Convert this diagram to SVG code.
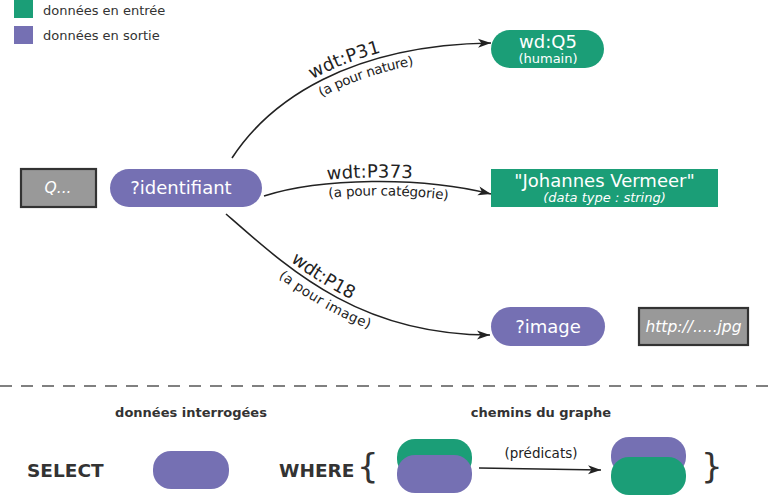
<svg xmlns="http://www.w3.org/2000/svg" xmlns:xlink="http://www.w3.org/1999/xlink" width="775" height="495" viewBox="0 0 775 495">
<style>
text{font-family:"DejaVu Sans","Liberation Sans",sans-serif;}
.in{fill:#1b9e77;}
.out{fill:#7570b3;}
.lit{fill:#999999;stroke:#333333;stroke-width:2.2;}
.w18{fill:#ffffff;font-size:18px;text-anchor:middle;}
.w13{fill:#ffffff;font-size:13px;text-anchor:middle;}
.wi{fill:#ffffff;font-size:15.5px;font-style:italic;text-anchor:middle;}
.leg{fill:#333333;font-size:13px;}
.edge{fill:none;stroke:#222222;stroke-width:1.6;}
.lbl{fill:#222222;font-size:18px;}
.sub{fill:#222222;font-size:13.5px;}
.hd{fill:#333333;font-size:13px;font-weight:bold;text-anchor:middle;}
.kw{fill:#333333;font-size:18.5px;font-weight:bold;}
.br{fill:#333333;font-size:34px;}
</style>
<defs>
<marker id="arr" markerUnits="userSpaceOnUse" viewBox="0 -5 14 10" markerWidth="14" markerHeight="10" refX="13" refY="0" orient="auto">
<path d="M0,-4.5 L13,0 L0,4.5 L3.5,0 Z" fill="#222222"/>
</marker>
</defs>

<g id="legend">
<rect class="in" x="14" y="-1" width="19" height="19"/>
<text class="leg" x="43" y="15">données en entrée</text>
<rect class="out" x="14" y="26" width="19" height="18"/>
<text class="leg" x="43" y="40">données en sortie</text>
</g>

<g id="connectors">
<path id="e1" class="edge" d="M232,158 C270,100 350,45 491,43" marker-end="url(#arr)"/>
<path id="e2" class="edge" d="M264,196 C320,178 420,176 491,194" marker-end="url(#arr)"/>
<path id="e3" class="edge" d="M226,214 C290,270 360,335 490,335" marker-end="url(#arr)"/>
<path class="edge" d="M479,468 L601,470" marker-end="url(#arr)"/>
<text class="lbl"><textPath xlink:href="#e1" href="#e1" startOffset="112"><tspan dy="-5">wdt:P31</tspan></textPath></text>
<text class="sub"><textPath xlink:href="#e1" href="#e1" startOffset="112"><tspan dy="15">(a pour nature)</tspan></textPath></text>
<text class="lbl"><textPath xlink:href="#e2" href="#e2" startOffset="65"><tspan dy="-4">wdt:P373</tspan></textPath></text>
<text class="sub"><textPath xlink:href="#e2" href="#e2" startOffset="65"><tspan dy="14">(a pour catégorie)</tspan></textPath></text>
<text class="lbl"><textPath xlink:href="#e3" href="#e3" startOffset="80"><tspan dy="-5">wdt:P18</tspan></textPath></text>
<text class="sub"><textPath xlink:href="#e3" href="#e3" startOffset="80"><tspan dy="15">(a pour image)</tspan></textPath></text>
<text class="sub" x="541" y="458" text-anchor="middle" font-size="13">(prédicats)</text>
</g>

<g id="node-q">
<rect class="lit" x="21" y="169" width="75" height="38"/>
<text class="wi" x="58" y="193">Q...</text>
</g>

<g id="node-identifiant">
<rect class="out" x="110" y="169" width="152" height="38" rx="19"/>
<text class="w18" x="181" y="194">?identifiant</text>
</g>

<g id="node-q5">
<rect class="in" x="491" y="30" width="113" height="38" rx="19"/>
<text class="w18" x="548" y="48">wd:Q5</text>
<text class="w13" x="548" y="63">(humain)</text>
</g>

<g id="node-vermeer">
<rect class="in" x="491" y="169" width="227" height="38"/>
<text class="w18" x="604.5" y="186.5">"Johannes Vermeer"</text>
<text class="w13" x="604.5" y="201.5" font-style="italic">(data type : string)</text>
</g>

<g id="node-image">
<rect class="out" x="491" y="307" width="114" height="39" rx="19.5"/>
<text class="w18" x="548" y="333">?image</text>
</g>

<g id="node-jpg">
<rect class="lit" x="639" y="308" width="109" height="37"/>
<text class="wi" x="693.5" y="332">http://.....jpg</text>
</g>

<line x1="0" y1="386" x2="775" y2="386" stroke="#808080" stroke-width="2" stroke-dasharray="12 9"/>

<g id="legend-bottom">
<text class="hd" x="191" y="417">données interrogées</text>
<text class="hd" x="541" y="417">chemins du graphe</text>
<text class="kw" x="27" y="477">SELECT</text>
<rect class="out" x="153" y="451" width="76" height="38" rx="18"/>
<text class="kw" x="279" y="477">WHERE</text>
<text class="br" x="357" y="478">{</text>
<rect class="in" x="397" y="439" width="75" height="38" rx="18"/>
<rect class="out" x="397" y="455" width="75" height="38" rx="18"/>
<rect class="out" x="611" y="437" width="75" height="38" rx="18"/>
<rect class="in" x="611" y="457" width="75" height="38" rx="18"/>
<text class="br" x="701" y="478">}</text>
</g>
</svg>
